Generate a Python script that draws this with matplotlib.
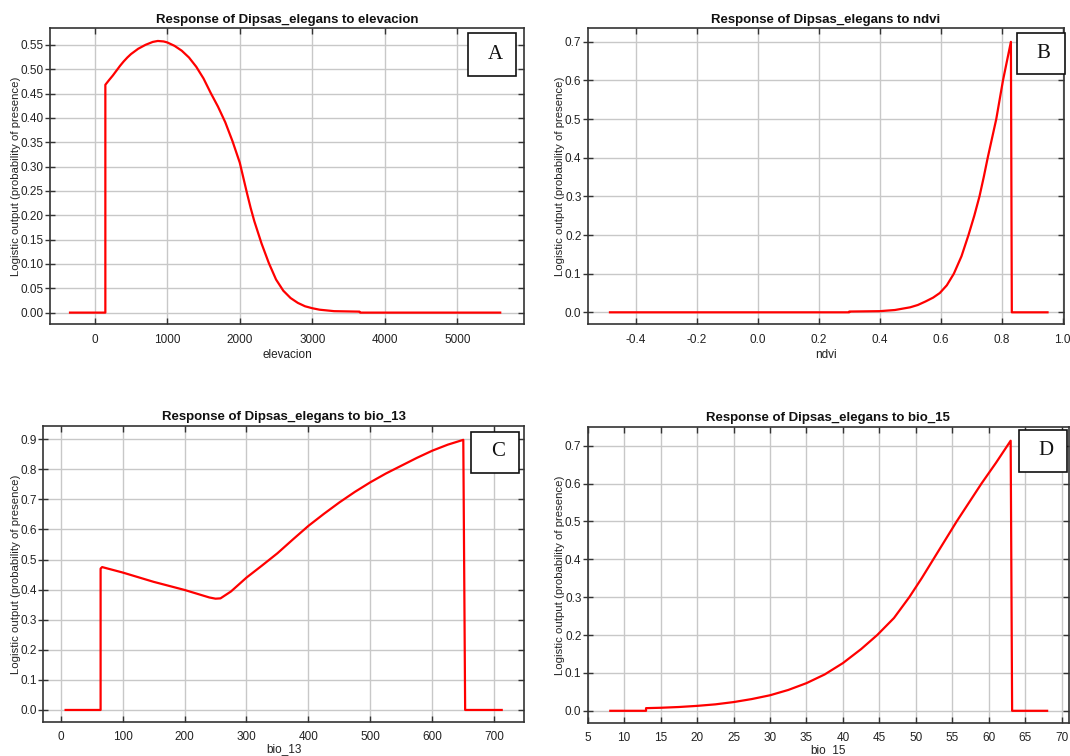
import matplotlib
matplotlib.use("Agg")
import matplotlib.pyplot as plt
from matplotlib.patches import Rectangle
from matplotlib.ticker import FormatStrFormatter

plt.rcParams['font.family'] = ['Liberation Sans', 'DejaVu Sans']

species = "Dipsas_elegans"
y_label = "Logistic output (probability of presence)"

# Panel A: elevacion
elev_x = [-340, 147, 147, 200, 250, 300, 350, 400, 450, 500, 600, 700, 800, 870, 950, 1000,
          1100, 1200, 1300, 1400, 1500, 1600, 1700, 1800, 1900, 2000, 2100, 2150, 2200, 2300,
          2400, 2500, 2600, 2700, 2800, 2900, 3000, 3100, 3300, 3650, 3660, 5590]
elev_y = [0.0, 0.0, 0.468, 0.478, 0.487, 0.497, 0.507, 0.516, 0.524, 0.531, 0.542, 0.550,
          0.556, 0.558, 0.557, 0.555, 0.548, 0.538, 0.524, 0.505, 0.481, 0.451, 0.423,
          0.391, 0.352, 0.308, 0.245, 0.215, 0.188, 0.142, 0.102, 0.068, 0.045, 0.030,
          0.020, 0.013, 0.009, 0.006, 0.003, 0.002, 0.0, 0.0]

# Panel B: ndvi
ndvi_x = [-0.484, 0.30, 0.30, 0.40, 0.45, 0.50, 0.525, 0.55, 0.575, 0.597, 0.62, 0.643,
          0.668, 0.691, 0.710, 0.727, 0.741, 0.754, 0.768, 0.782, 0.793, 0.804, 0.817,
          0.830, 0.833, 0.950]
ndvi_y = [0.0, 0.0, 0.002, 0.003, 0.006, 0.013, 0.019, 0.028, 0.038, 0.050, 0.070, 0.100,
          0.145, 0.200, 0.250, 0.300, 0.350, 0.400, 0.450, 0.500, 0.550, 0.600, 0.650,
          0.700, 0.0, 0.0]

# Panel C: bio_13
b13_x = [8, 64.5, 64.5, 67, 100, 150, 200, 240, 250, 258, 275, 300, 325, 350, 375, 400,
         425, 450, 475, 500, 525, 550, 575, 600, 625, 650, 653, 712]
b13_y = [0.0, 0.0, 0.470, 0.475, 0.457, 0.426, 0.399, 0.374, 0.370, 0.371, 0.394, 0.440,
         0.480, 0.521, 0.567, 0.612, 0.652, 0.690, 0.725, 0.757, 0.786, 0.812, 0.838,
         0.862, 0.882, 0.898, 0.0, 0.0]

# Panel D: bio_15
b15_x = [8.1, 13.0, 13.0, 15, 17.5, 20, 22.5, 25, 27.5, 30, 32.5, 35, 37.5, 40, 42.5, 44.7,
         47, 49.1, 50.8, 52.4, 54, 55.6, 57.3, 59.0, 61.0, 63.0, 63.2, 68.0]
b15_y = [0.0, 0.0, 0.007, 0.008, 0.010, 0.013, 0.017, 0.023, 0.031, 0.041, 0.055, 0.073,
         0.096, 0.126, 0.163, 0.200, 0.245, 0.300, 0.350, 0.400, 0.450, 0.500, 0.550,
         0.600, 0.655, 0.713, 0.0, 0.0]

panels = [
    dict(var="elevacion", x=elev_x, y=elev_y, xlim=(-616, 5918), ylim=(-0.024, 0.584),
         xticks=[0, 1000, 2000, 3000, 4000, 5000], yticks=[i * 0.05 for i in range(12)],
         xfmt="%d", yfmt="%.2f", label="A", ylab_px=21, bottom_row=False,
         ax_px=(50, 28.3, 524, 324.3), box_px=(468, 33, 516, 76)),
    dict(var="ndvi", x=ndvi_x, y=ndvi_y, xlim=(-0.557, 1.005), ylim=(-0.031, 0.735),
         xticks=[-0.4, -0.2, 0.0, 0.2, 0.4, 0.6, 0.8, 1.0], yticks=[i * 0.1 for i in range(8)],
         xfmt="%.1f", yfmt="%.1f", label="B", ylab_px=565, bottom_row=False,
         ax_px=(587.7, 28.3, 1064.3, 324.3), box_px=(1017, 32.5, 1064.5, 74)),
    dict(var="bio_13", x=b13_x, y=b13_y, xlim=(-28, 748), ylim=(-0.041, 0.945),
         xticks=[0, 100, 200, 300, 400, 500, 600, 700], yticks=[i * 0.1 for i in range(10)],
         xfmt="%d", yfmt="%.1f", label="C", ylab_px=21, bottom_row=True,
         ax_px=(43.3, 425.7, 524, 722.3), box_px=(471, 431.5, 519, 472.5)),
    dict(var="bio_15", x=b15_x, y=b15_y, xlim=(5.0, 71.0), ylim=(-0.033, 0.750),
         xticks=list(range(5, 71, 5)), yticks=[i * 0.1 for i in range(8)],
         xfmt="%d", yfmt="%.1f", label="D", ylab_px=565, bottom_row=True,
         ax_px=(587.7, 426.7, 1069, 723.3), box_px=(1018.5, 430, 1066.5, 472)),
]

W, H = 1070, 756
fig = plt.figure(figsize=(W / 100, H / 100), dpi=100)
fig.patch.set_facecolor("white")

for p in panels:
    l, t, r, b = p["ax_px"]
    ax = fig.add_axes([l / W, 1 - b / H, (r - l) / W, (b - t) / H])
    ax.plot(p["x"], p["y"], color="#ff0000", lw=1.6, solid_joinstyle="round")
    ax.set_xlim(*p["xlim"])
    ax.set_ylim(*p["ylim"])
    ax.set_xticks(p["xticks"])
    ax.set_yticks(p["yticks"])
    ax.xaxis.set_major_formatter(FormatStrFormatter(p["xfmt"]))
    ax.yaxis.set_major_formatter(FormatStrFormatter(p["yfmt"]))
    ax.grid(True, color="#c8c8c8", lw=1.0)
    ax.set_axisbelow(True)
    for s in ax.spines.values():
        s.set_color("#333333")
        s.set_linewidth(1.2)
    ax.tick_params(direction="in", length=4, width=1, color="#333333",
                   top=True, right=True, labelsize=8.5, labelcolor="#222222")
    ax.tick_params(axis="x", pad=6 if p["bottom_row"] else 7)
    ax.tick_params(axis="y", which="major", left=True, pad=1)
    ax.yaxis.set_tick_params(which="major", direction="inout", length=7)
    ax.tick_params(axis="y", right=True)
    for tk in ax.yaxis.get_major_ticks():
        tk.tick2line.set_markersize(4)
        tk.tick2line.set_marker(0)
    ax.set_title(f"Response of {species} to {p['var']}", fontsize=9.5,
                 fontweight="bold", pad=4, color="#111111")
    ax.set_xlabel(p["var"], fontsize=8.5, color="#222222",
                  labelpad=0 if p["bottom_row"] else 2)
    ax.set_ylabel(y_label, fontsize=8.2, color="#222222")
    ax.yaxis.set_label_coords((p["ylab_px"] - l) / (r - l), 0.5)

    bl, bt, br, bb = p["box_px"]
    fig.add_artist(Rectangle((bl / W, 1 - bb / H), (br - bl) / W, (bb - bt) / H,
                             transform=fig.transFigure, facecolor="white",
                             edgecolor="#111111", lw=1.2, zorder=5))
    fig.text((bl + br) / 2 / W + 3 / W, 1 - (bt + bb) / 2 / H, p["label"],
             family=["Liberation Serif", "DejaVu Serif"], fontsize=15,
             ha="center", va="center", zorder=6, color="#111111")

fig.savefig("out.png", dpi=100, facecolor="white")
